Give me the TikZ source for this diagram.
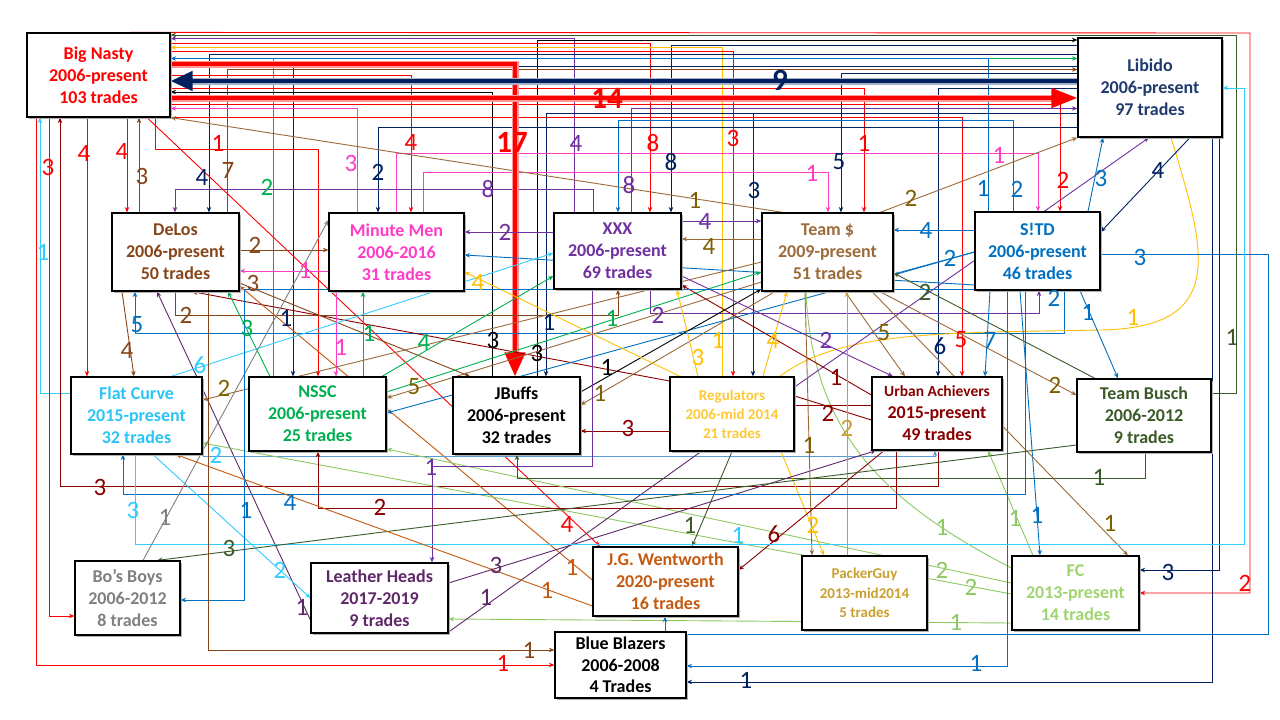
\documentclass[tikz,border=0pt]{standalone}
\usepackage{fontspec}
\setmainfont{Carlito}
\usetikzlibrary{arrows.meta,shadows}
\pgfdeclarelayer{bg}
\pgfsetlayers{bg,main}
\definecolor{cred}{HTML}{FF0000}
\definecolor{cnavy}{HTML}{002060}
\definecolor{libtxt}{HTML}{1F3A6E}
\definecolor{cbrown}{HTML}{86461A}
\definecolor{cpink}{HTML}{FF3CC8}
\definecolor{cpurple}{HTML}{7030A0}
\definecolor{ctan}{HTML}{9C6B3A}
\definecolor{tlab}{HTML}{7F6000}
\definecolor{cblue}{HTML}{0070C0}
\definecolor{clblue}{HTML}{33CCFF}
\definecolor{flctxt}{HTML}{2BC4F5}
\definecolor{cgreen}{HTML}{00B050}
\definecolor{cyel}{HTML}{FFC000}
\definecolor{regtxt}{HTML}{FFC935}
\definecolor{cdred}{HTML}{8B0000}
\definecolor{cdgreen}{HTML}{3A5A28}
\definecolor{cgray}{HTML}{808080}
\definecolor{clh}{HTML}{5F2868}
\definecolor{corange}{HTML}{C55A11}
\definecolor{cgold}{HTML}{C9A02F}
\definecolor{clg}{HTML}{8DC961}
\definecolor{fctxt}{HTML}{A0D470}
\definecolor{cmblue}{HTML}{5B9BD5}
\tikzset{
  box/.style={draw=black,line width=1.2pt,fill=white,align=center,inner sep=0pt,
    font=\bfseries\fontsize{18}{22}\selectfont,
    drop shadow={shadow xshift=1.5pt,shadow yshift=-1.5pt,fill=black!30,opacity=1}},
  ln/.style={line width=0.9pt},
  ar/.style={ln,-{Stealth[length=5.5pt,width=4.5pt]}},
  lab/.style={inner sep=0pt,font=\fontsize{25}{25}\selectfont},
  blab/.style={inner sep=0pt,font=\bfseries\fontsize{31}{31}\selectfont},
}
\newcommand\lbl[4]{\node[lab,text=#1] (#2) at (#3) {#4};}
\begin{document}
\begin{tikzpicture}[x=1pt,y=-1pt]
\useasboundingbox (0,0) rectangle (1280,720);
% ---------------- nodes ----------------
\node[box,minimum width=143pt,minimum height=84pt,text=cred] (bn) at (98.5,75) {Big Nasty\\2006-present\\103 trades};
\node[box,minimum width=144pt,minimum height=99pt,text=libtxt] (lib) at (1150,87.5) {Libido\\2006-present\\97 trades};
\node[box,minimum width=127pt,minimum height=78pt,text=cbrown] (delos) at (175.5,252) {DeLos\\2006-present\\50 trades};
\node[box,minimum width=135pt,minimum height=78pt,text=cpink] (mm) at (396.5,252) {Minute Men\\2006-2016\\31 trades};
\node[box,minimum width=127pt,minimum height=76pt,text=cpurple] (xxx) at (617.5,251) {XXX\\2006-present\\69 trades};
\node[box,minimum width=131pt,minimum height=78pt,text=ctan] (tm) at (827.5,252) {Team \$\\2009-present\\51 trades};
\node[box,minimum width=125pt,minimum height=78pt,text=cblue] (stb) at (1037.5,251) {S!TD\\2006-present\\46 trades};
\node[box,minimum width=131pt,minimum height=77pt,text=flctxt] (flc) at (136.5,415.5) {Flat Curve\\2015-present\\32 trades};
\node[box,minimum width=137pt,minimum height=74pt,text=cgreen] (nssc) at (317.5,414) {NSSC\\2006-present\\25 trades};
\node[box,minimum width=127pt,minimum height=77pt,text=black] (jb) at (516.5,415.5) {JBuffs\\2006-present\\32 trades};
\node[box,minimum width=124pt,minimum height=74pt,text=regtxt,font=\bfseries\fontsize{15}{19}\selectfont] (reg) at (732,414) {Regulators\\2006-mid 2014\\21 trades};
\node[box,minimum width=130pt,minimum height=73pt,text=cdred] (ua) at (937,413.5) {{\fontsize{15.5}{19}\selectfont Urban Achievers}\\2015-present\\49 trades};
\node[box,minimum width=134pt,minimum height=73pt,text=cdgreen] (tb) at (1144,415.5) {Team Busch\\2006-2012\\9 trades};
\node[box,minimum width=105pt,minimum height=74pt,text=cgray] (bo) at (127.5,598) {Bo’s Boys\\2006-2012\\8 trades};
\node[box,minimum width=137pt,minimum height=70pt,text=clh] (lh) at (379.5,598) {Leather Heads\\2017-2019\\9 trades};
\node[box,minimum width=145pt,minimum height=69pt,text=corange] (jgw) at (665.5,581.5) {J.G. Wentworth\\2020-present\\16 trades};
\node[box,minimum width=125pt,minimum height=74pt,text=cgold,font=\bfseries\fontsize{15}{19.5}\selectfont] (pg) at (864.5,593) {PackerGuy\\2013-mid2014\\5 trades};
\node[box,minimum width=127pt,minimum height=74pt,text=fctxt] (fc) at (1075.5,593) {FC\\2013-present\\14 trades};
\node[box,minimum width=131pt,minimum height=66pt,text=black,font=\bfseries\fontsize{18}{21.5}\selectfont] (bb) at (620.5,665) {Blue Blazers\\2006-2008\\4 Trades};
% ---------------- connectors ----------------
\begin{pgfonlayer}{bg}
\fill[white] (0,0) rectangle (1280,720);
% top bus
\draw[ar,cred] (bn.north -| 130,0) -- (1250,33) -- (1250,593) -- (fc.east |- 0,593);
\draw[ar,cdgreen] (tb.east |- 0,393) -- (1236,393) -- (1236,35) -- (bn.east |- 0,35);
\draw[ar,cpurple] (xxx.north -| 574,0) -- (574,38.5) -- (bn.east |- 0,38.5);
\draw[ar,black] (jb.north -| 537,0) -- (537,40) -- (lib.west |- 0,40);
\draw[ar,cred] (bn.east |- 0,43) -- (650,43) -- (xxx.north -| 650,0);
\draw[ar,cnavy] (lib.west |- 0,45) -- (671,45) -- (xxx.north -| 671,0);
\draw[ar,cyel] (reg.north -| 722,0) -- (722,47.5) -- (bn.east |- 0,47.5);
\draw[ar,cred] (bn.east |- 0,51) -- (733,51) -- (reg.north -| 733,0);
\draw[ar,cnavy] (lib.west |- 0,54) -- (209,54) -- (delos.north -| 209,0);
\draw[ar,cgreen] (nssc.north -| 273,0) -- (273,58.5) -- (lib.west |- 0,58.5);
\draw[ar,cblue] (stb.north -| 988,0) -- (988,58.5) -- (bn.east |- 0,58.5);
\draw[ar,cnavy] (lib.west |- 0,66) -- (293,66) -- (nssc.north -| 293,0);
\draw[ar,cbrown] (delos.north -| 227,0) -- (227,69.5) -- (lib.west |- 0,69.5);
\draw[ar,cnavy] (lib.west |- 0,73.5) -- (841,73.5) -- (tm.north -| 841,0);
\draw[ar,cred] (bn.east |- 0,75) -- (411,75) -- (mm.north -| 411,0);
\draw[ar,cred] (bn.east |- 0,88) -- (864,88) -- (tm.north -| 864,0);
\draw[ar,cnavy] (lib.west |- 0,88) -- (938,88) -- (ua.north -| 938,0);
\draw[ar,black] (jb.north -| 492,0) -- (492,92) -- (bn.east |- 0,92);
\draw[ar,cred] (bn.east |- 0,104) -- (1060,104) -- (stb.north -| 1060,0);
\draw[ar,cpurple] (xxx.north -| 631,0) -- (631,108.5) -- (lib.west |- 0,108.5);
\draw[ar,cpink] (mm.north -| 357,0) -- (357,108.5) -- (bn.east |- 0,108.5);
\draw[ar,cnavy] (lib.west |- 0,113.5) -- (546,113.5) -- (jb.north -| 546,0);
\draw[ar,cnavy] (lib.west |- 0,113.5) -- (753,113.5) -- (reg.north -| 753,0);
\draw[ar,cred] (bn.east |- 0,117) -- (962,117) -- (ua.north -| 962,0);
\draw[ar,cblue] (stb.north -| 1013,0) -- (1013,120.5) -- (618,120.5) -- (xxx.north -| 618,0);
\draw[ar,cnavy] (lib.west |- 0,127) -- (378,127) -- (mm.north -| 378,0);
\draw[ar,cpink] (mm.north -| 396,0) -- (396,153) -- (1038,153) -- (stb.north -| 1038,0);
\draw[ar,cpink] (mm.north -| 423,0) -- (423,172) -- (828,172) -- (tm.north -| 828,0);
\draw[ar,cpurple] (xxx.north -| 593,0) -- (593,189) -- (175,189) -- (delos.north -| 175,0);
\draw[ar,ctan] (tm.north -| 783,0) -- (bn.south east);
\draw[ar,ctan] (tm.north -| 880,0) -- (lib.south west);
% thick arrows
\draw[line width=7pt,cred!40] (bn.east |- 0,64) -- (515,64) -- (515,352);
\draw[line width=4.5pt,cred,-{Triangle[length=24pt,width=20pt]}] (bn.east |- 0,64) -- (515,64) -- (jb.north -| 515,0);
\draw[line width=7pt,cnavy!35] (lib.west |- 0,81) -- (192,81);
\draw[line width=4.5pt,cnavy,-{Triangle[length=22pt,width=19pt]}] (lib.west |- 0,81) -- (bn.east |- 0,81);
\draw[line width=7pt,cred!40] (bn.east |- 0,98) -- (1052,98);
\draw[line width=4.5pt,cred,-{Triangle[length=26pt,width=19pt]}] (bn.east |- 0,98) -- (lib.west |- 0,98);
% Big Nasty lower side
\draw[ar,cred] (bn.south -| 147,0) -- (jgw.north -| 600,0);
\draw[ar,cred] (bn.south -| 155,0) -- (155,149) -- (318,149) -- (nssc.north -| 318,0);
\draw[ar,clblue] (flc.west |- 0,393) -- (40,393) -- (bn.south -| 40,0);
\draw[ar,cred] (bn.south -| 36,0) -- (36,665) -- (bb.west |- 0,665);
\draw[ar,cred] (bn.south -| 49,0) -- (49,616) -- (bo.west |- 0,616);
\draw[ar,cdred] (ua.south -| 938,0) -- (938,486) -- (60,486) -- (bn.south -| 60,0);
\draw[ar,cred] (bn.south -| 87,0) -- (flc.north -| 87,0);
\draw[ar,cred] (bn.south -| 127,0) -- (delos.north -| 127,0);
\draw[ar,cbrown] (delos.north -| 139,0) -- (bn.south -| 139,0);
% DeLos / Minute Men / XXX row
\draw[ar,cbrown] (delos.east |- 0,250) -- (mm.west |- 0,250);
\draw[ar,cpink] (mm.west |- 0,271) -- (delos.east |- 0,271);
\draw[ar,cpurple] (xxx.west |- 0,232) -- (mm.east |- 0,232);
\draw[ar,cblue] (stb.west |- 0,285) -- (mm.east |- 0,255);
\draw[ar,cblue] (stb.south -| 1064,0) -- (1064,333) -- (135,333) -- (delos.south -| 135,0);
\draw[ar,cbrown] (delos.south -| 175,0) -- (175,315) -- (618,315) -- (xxx.south -| 618,0);
\draw[ar,cpurple] (xxx.south -| 650,0) -- (650,313) -- (1039,313) -- (stb.south -| 1039,0);
\draw[ar,clh] (lh.west |- 0,620) -- (delos.south -| 157,0);
\draw[ar,cbrown] (delos.south -| 122,0) -- (flc.north -| 134,0);
\draw[ar,cdred] (reg.west |- 0,381) -- (delos.south -| 192,0);
\draw[ar,cbrown] (delos.east |- 0,283) -- (jb.north -| 470,0);
\draw[ar,corange] (jgw.west |- 0,580) -- (delos.east |- 0,286);
\draw[ar,cgreen] (nssc.north -| 270,0) -- (delos.south -| 228,0);
\draw[ar,cgreen] (nssc.north -| 363,0) -- (mm.south -| 363,0);
\draw[ar,cpink] (mm.south -| 336,0) -- (nssc.north -| 336,0);
\draw[ar,cgreen] (nssc.north -| 382,0) -- (xxx.west |- 0,276);
\draw[ar,cgreen] (nssc.east |- 0,392) -- (tm.west |- 0,272);
\draw[ar,ctan] (tm.west |- 0,282) -- (nssc.east |- 0,398);
\draw[ar,cblue] (stb.west |- 0,252) -- (nssc.east |- 0,413);
\draw[ar,cblue] (stb.west |- 0,252) -- (tm.east |- 0,275);
\draw[ar,clblue] (flc.north -| 171,0) -- (xxx.west |- 0,253);
\draw[ar,ctan] (tm.west |- 0,262) -- (flc.east |- 0,400);
\draw[ar,cmblue] (flc.east |- 0,456) -- (935,456) -- (ua.south -| 935,0);
% light green from FC
\draw[ar,clg] (fc.west |- 0,583) -- (nssc.east |- 0,449);
\draw[ar,clg] (fc.west |- 0,594) -- (flc.east |- 0,443);
\draw[ar,clg] (fc.west |- 0,623) -- (lh.east |- 0,619);
\draw[ar,clg] (fc.north -| 1033,0) -- (ua.south -| 988,0);
\draw[ln,clg] (tm.south -| 806,0) .. controls (812,430) and (880,500) .. (fc.west |- 0,568);
% JBuffs / Regulators
\draw[ar,cdred] (reg.west |- 0,431) -- (jb.east |- 0,431);
\draw[ar,black] (jb.east |- 0,392) -- (tm.west |- 0,289);
\draw[ar,ctan] (tm.south -| 775,0) -- (jb.east |- 0,405);
\draw[ar,cpurple] (xxx.south -| 592,0) -- (592,466) -- (432,466) -- (lh.north -| 432,0);
\draw[ar,cdgreen] (tb.south -| 1145,0) -- (1145,478) -- (517,478) -- (jb.south -| 517,0);
\draw[ar,cyel] (reg.north -| 680,0) -- (mm.east |- 0,272);
\draw[ar,cyel] (reg.north -| 698,0) -- (xxx.south -| 677,0);
\draw[ar,cyel] (reg.north -| 763,0) -- (tm.south -| 787,0);
\draw[ar,cyel] (reg.south -| 781,0) -- (pg.north -| 824,0);
\draw[ar,cdgreen] (reg.south -| 732,0) -- (jgw.north -| 692,0);
\draw[ar,clh] (lh.east |- 0,583) -- (ua.south -| 876,0);
\draw[ln,clh] (reg.south -| 701,0) -- (lh.east |- 0,632);
\draw[ln,cyel] (reg.north -| 780,0) .. controls (840,330) and (950,333) .. (1100,330) .. controls (1230,328) and (1205,250) .. (lib.south -| 1171,0);
\draw[ar,cpurple] (reg.east |- 0,387) -- (lib.south -| 1149,0);
% Team $ / Urban Achievers / S!TD / Team Busch
\draw[ar,ctan] (tm.south -| 845,0) -- (ua.north -| 905,0);
\draw[ar,cpurple] (xxx.east |- 0,276) -- (ua.north -| 893,0);
\draw[ar,cdred] (ua.west |- 0,395) -- (xxx.east |- 0,285);
\draw[ln,cdred] (reg.east |- 0,405) -- (ua.west |- 0,405);
\draw[ln,cdred] (reg.east |- 0,396) -- (ua.west |- 0,420);
\draw[ar,cblue] (stb.south -| 990,0) -- (ua.north -| 985,0);
\draw[ar,cblue] (stb.south -| 1080,0) -- (tb.north -| 1118,0);
\draw[ar,ctan] (tm.south -| 880,0) -- (tb.west |- 0,395);
\draw[ar,cdgreen] (tb.north -| 1095,0) -- (tm.east |- 0,273);
\draw[ar,cblue] (stb.west |- 0,230) -- (tm.east |- 0,230);
\draw[ar,cpurple] (xxx.east |- 0,221) -- (tm.west |- 0,221);
\draw[ar,ctan] (tm.west |- 0,239) -- (xxx.east |- 0,239);
\draw[ar,cblue] (stb.north -| 1088,0) -- (lib.south -| 1103,0);
\draw[ar,cnavy] (lib.south -| 1190,0) -- (stb.east |- 0,232);
\draw[ar,cblue] (stb.east |- 0,254) -- (1268,254) -- (1268,634) -- (665,634) -- (jgw.south -| 665,0);
\draw[ar,cnavy] (lib.south -| 1219,0) -- (1219,570) -- (fc.east |- 0,570);
\draw[ar,cnavy] (lib.south -| 1212,0) -- (1212,682) -- (bb.east |- 0,682);
\draw[ar,cblue] (stb.south -| 1007,0) -- (1007,666) -- (bb.east |- 0,666);
\draw[ar,cblue] (stb.south -| 1020,0) -- (fc.north -| 1040,0);
\draw[ar,ctan] (tm.south -| 872,0) -- (fc.north -| 1128,0);
\draw[ar,ctan] (tm.south -| 805,0) -- (pg.north -| 812,0);
\draw[ar,cgold] (pg.north -| 847,0) -- (tm.south -| 847,0);
\draw[ar,cdred] (ua.south -| 884,0) -- (jgw.east |- 0,570);
\draw[ar,cdred] (ua.south -| 896,0) -- (896,508) -- (318,508) -- (nssc.south -| 318,0);
\draw[ar,cblue] (stb.south -| 1025,0) -- (1025,494) -- (123,494) -- (flc.south -| 123,0);
\draw[ar,clblue] (flc.south -| 135,0) -- (135,544) -- (1244,544) -- (1244,88) -- (lib.east |- 0,88);
\draw[ar,clblue] (flc.south -| 153,0) -- (lh.west |- 0,598);
\draw[ar,cgray] (bo.north -| 143,0) -- (mm.west |- 0,220);
\draw[ar,cblue] (stb.west |- 0,289.5) -- (244,289.5) -- (244,600) -- (bo.east |- 0,600);
\draw[ar,cdgreen] (tb.west |- 0,445) -- (bo.north -| 157,0);
\draw[ar,corange] (jgw.west |- 0,606) -- (flc.south -| 176,0);
\draw[ar,cbrown] (delos.south -| 208,0) -- (208,650) -- (bb.west |- 0,650);
\end{pgfonlayer}
% ---------------- labels ----------------
\lbl{cred}{l1}{1245,583}{2}
\lbl{cdgreen}{l2}{1232,337}{1}
\lbl{cpurple}{l3}{576,143}{4}
\lbl{black}{l4}{537,353}{3}
\lbl{cred}{l5}{653,143}{8}
\lbl{cyel}{l6}{718,340}{1}
\lbl{cnavy}{l7}{202,177}{4}
\lbl{cred}{l8}{733,138}{3}
\lbl{cblue}{l9}{983,188}{1}
\lbl{cgreen}{l10}{267,187}{2}
\node[blab,text=cred] (l11) at (512,142) {17};
\lbl{cnavy}{l12}{286,318}{1}
\lbl{cbrown}{l13}{228,170}{7}
\lbl{cnavy}{l14}{839,162}{5}
\lbl{cred}{l15}{411,142}{4}
\node[blab,text=cnavy] (l16) at (780,80) {9};
\lbl{cred}{l17}{864,143}{1}
\lbl{cnavy}{l18}{940,346}{6}
\lbl{black}{l19}{493,340}{3}
\node[blab,text=cred] (l20) at (607,98) {14};
\lbl{cred}{l21}{1063,180}{2}
\lbl{cpurple}{l22}{629,185}{8}
\lbl{cpink}{l23}{351,163}{3}
\lbl{cred}{l24}{961,340}{5}
\lbl{cnavy}{l25}{754,190}{3}
\lbl{cnavy}{l26}{549,322}{1}
\lbl{cblue}{l27}{1017,189}{2}
\lbl{cnavy}{l28}{378,172}{2}
\lbl{cnavy}{l29}{671,162}{8}
\lbl{cpink}{l30}{999,155}{1}
\lbl{cpink}{l31}{812,173}{1}
\lbl{cpurple}{l32}{488,189}{8}
\lbl{tlab}{l33}{695,200}{1}
\lbl{cred}{l34}{567,524}{4}
\lbl{cred}{l35}{218,143}{1}
\lbl{clblue}{l36}{43,252}{1}
\lbl{cred}{l37}{503,663}{1}
\lbl{cred}{l38}{48,167}{3}
\lbl{cdred}{l39}{100,487}{3}
\lbl{cred}{l40}{84,153}{4}
\lbl{cred}{l41}{122,151}{4}
\lbl{cbrown}{l42}{142,176}{3}
\lbl{cbrown}{l43}{255,245}{2}
\lbl{cpink}{l44}{305,270}{1}
\lbl{cpurple}{l45}{505,232}{2}
\lbl{cblue}{l46}{137,325}{5}
\lbl{cblue}{l47}{1054,298}{2}
\lbl{cbrown}{l48}{186,315}{2}
\lbl{clh}{l49}{302,607}{1}
\lbl{cbrown}{l50}{127,350}{4}
\lbl{cbrown}{l51}{253,283}{3}
\lbl{corange}{l52}{572,567}{1}
\lbl{cgreen}{l53}{247,328}{3}
\lbl{cgreen}{l54}{369,333}{1}
\lbl{cpink}{l55}{341,347}{1}
\lbl{cgreen}{l56}{424,342}{4}
\lbl{cgreen}{l57}{612,318}{1}
\lbl{tlab}{l58}{414,387}{5}
\lbl{cblue}{l59}{950,258}{2}
\lbl{clblue}{l60}{200,365}{6}
\lbl{tlab}{l61}{224,388}{2}
\lbl{clblue}{l62}{216,455}{2}
\lbl{clg}{l63}{971,587}{2}
\lbl{clg}{l64}{942,570}{2}
\lbl{clg}{l65}{956,622}{1}
\lbl{clg}{l66}{1015,518}{1}
\lbl{clg}{l67}{942,527}{1}
\lbl{cdred}{l68}{628,428}{3}
\lbl{black}{l69}{607,367}{1}
\lbl{tlab}{l70}{600,393}{1}
\lbl{cpurple}{l71}{431,467}{1}
\lbl{cdgreen}{l72}{1099,477}{1}
\lbl{cyel}{l73}{478,282}{4}
\lbl{cyel}{l74}{698,357}{3}
\lbl{cyel}{l75}{773,340}{4}
\lbl{cyel}{l76}{813,525}{2}
\lbl{cdgreen}{l77}{690,525}{1}
\lbl{clh}{l78}{496,565}{3}
\lbl{clh}{l79}{486,597}{1}
\lbl{tlab}{l80}{884,333}{5}
\lbl{cpurple}{l81}{826,340}{2}
\lbl{cdred}{l82}{836,377}{1}
\lbl{cdred}{l83}{828,413}{2}
\lbl{cblue}{l84}{990,340}{7}
\lbl{cblue}{l85}{1088,312}{1}
\lbl{tlab}{l86}{1055,385}{2}
\lbl{cdgreen}{l87}{925,292}{2}
\lbl{cblue}{l88}{926,230}{4}
\lbl{cpurple}{l89}{705,221}{4}
\lbl{tlab}{l90}{709,246}{4}
\lbl{cblue}{l91}{1101,178}{3}
\lbl{cnavy}{l92}{1158,170}{4}
\lbl{tlab}{l93}{911,198}{2}
\lbl{cblue}{l94}{1140,257}{3}
\lbl{cnavy}{l95}{1168,572}{3}
\lbl{cnavy}{l96}{746,680}{1}
\lbl{cblue}{l97}{976,663}{1}
\lbl{cblue}{l98}{1037,515}{1}
\lbl{tlab}{l99}{1110,523}{1}
\lbl{tlab}{l100}{809,445}{1}
\lbl{cgold}{l101}{847,428}{2}
\lbl{cdred}{l102}{774,534}{6}
\lbl{cdred}{l103}{380,507}{2}
\lbl{cblue}{l104}{290,502}{4}
\lbl{clblue}{l105}{133,510}{3}
\lbl{clblue}{l106}{738,535}{1}
\lbl{clblue}{l107}{280,570}{2}
\lbl{cgray}{l108}{165,517}{1}
\lbl{cblue}{l109}{246,510}{1}
\lbl{cdgreen}{l110}{229,548}{3}
\lbl{corange}{l111}{547,590}{1}
\lbl{cbrown}{l112}{529,650}{1}
\lbl{cpurple}{l113}{658,315}{2}
\lbl{cyel}{l114}{1133,317}{1}
\end{tikzpicture}
\end{document}
